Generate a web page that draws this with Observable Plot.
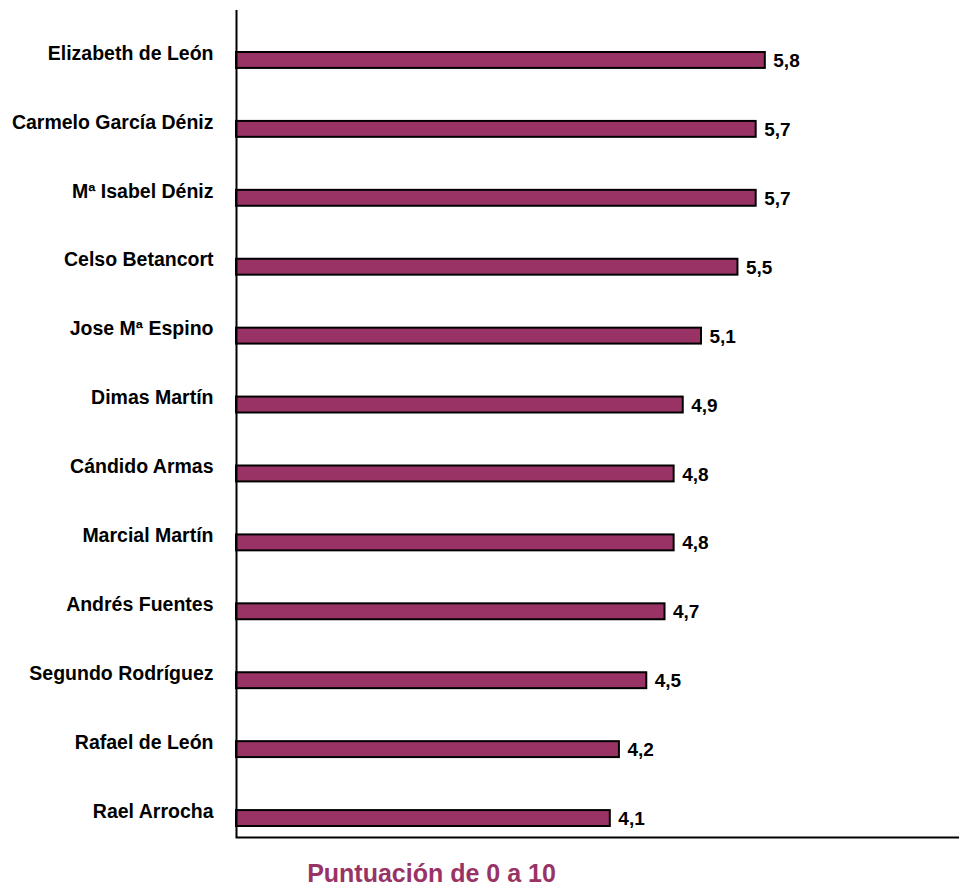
<!DOCTYPE html>
<html>
<head>
<meta charset="utf-8">
<script src="https://cdn.jsdelivr.net/npm/d3@7"></script>
<script src="https://cdn.jsdelivr.net/npm/@observablehq/plot@0.6"></script>
<style>
  body { margin: 0; background: #fff; font-family: "Liberation Sans", Arial, sans-serif; overflow: hidden; }
  #chart svg { display: block; }
  #title { width: 863px; text-align: center; font-weight: bold; font-size: 25px; line-height: 25px; color: #993366; margin-top: 16px; }
</style>
</head>
<body>
<div id="chart"></div>
<div id="title">Puntuación de 0 a 10</div>
<script>
const names = ["Elizabeth de León", "Carmelo García Déniz", "Mª Isabel Déniz", "Celso Betancort", "Jose Mª Espino", "Dimas Martín", "Cándido Armas", "Marcial Martín", "Andrés Fuentes", "Segundo Rodríguez", "Rafael de León", "Rael Arrocha"];
const scores = [5.8, 5.7, 5.7, 5.5, 5.1, 4.9, 4.8, 4.8, 4.7, 4.5, 4.2, 4.1];
const data = names.map((n, i) => ({name: n, score: scores[i]}));
const fmt = v => v.toFixed(1).replace(".", ",");

const chart = Plot.plot({
  width: 959,
  height: 845,
  marginLeft: 236,
  marginRight: 0,
  marginTop: 10,
  marginBottom: 8,
  style: {fontFamily: "'Liberation Sans', Arial, sans-serif", fontSize: "19px", color: "#000", background: "#fff"},
  x: {domain: [0, 7.93], axis: null},
  y: {domain: names, padding: 0, round: false, label: null},
  marks: [
    Plot.barX(data, {x: "score", y: "name", fill: "#993366", stroke: "#000", strokeWidth: 2, insetTop: 42, insetBottom: 11}),
    Plot.text(data, {x: "score", y: "name", text: d => fmt(d.score), dx: 8, dy: 16, textAnchor: "start", fontWeight: "bold", fontSize: 19, fill: "#000"}),
    Plot.axisY({tickSize: 0, tickPadding: 23, dy: 8.5, fontWeight: "bold", fontSize: 19.5, label: null}),
    Plot.ruleX([0], {stroke: "#000", strokeWidth: 2}),
    Plot.frame({anchor: "bottom", stroke: "#000", strokeWidth: 2})
  ]
});
document.getElementById("chart").appendChild(chart);
</script>
</body>
</html>
